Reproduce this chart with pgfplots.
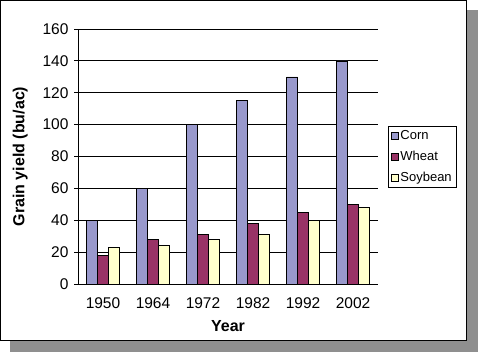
\documentclass[border=0pt]{standalone}
\usepackage{pgfplots}
\pgfplotsset{compat=1.18}
\usepackage{fontspec}
\setmainfont{Liberation Sans}
\definecolor{corn}{HTML}{9999CC}
\definecolor{wheat}{HTML}{993366}
\definecolor{soy}{HTML}{FFFFCC}
\definecolor{shadow}{HTML}{8F8F8F}
\begin{document}
\begin{tikzpicture}[x=1pt,y=1pt]
\fill[shadow] (10,0) rectangle (478,342);
\fill[white] (0,11) rectangle (467,352);
\draw[black,line width=1.2pt] (0.6,11.6) rectangle (466.4,351.4);
\begin{axis}[
  at={(78pt,68pt)}, anchor=south west,
  scale only axis, width=300pt, height=255pt,
  xmin=-0.5, xmax=5.5, ymin=0, ymax=160,
  ybar=0pt, bar width=11pt,
  axis x line*=bottom, axis y line*=left,
  axis line style={line width=0.9pt, -},
  xtick={0,1,2,3,4,5},
  xticklabels={1950,1964,1972,1982,1992,2002},
  x tick style={draw=none},
  extra x ticks={-0.5,0.5,1.5,2.5,3.5,4.5,5.5},
  extra x tick labels={},
  extra x tick style={grid=none, tick style={draw=black, line width=0.9pt}, major tick length=4pt, tick align=outside},
  ytick={0,20,...,160},
  ymajorgrids, grid style={black, line width=0.9pt},
  y tick style={black, line width=0.9pt},
  major tick length=4pt, tick align=outside,
  tick label style={font=\fontsize{15.5}{18}\selectfont},
  /pgf/number format/assume math mode=true,
  yticklabel style={xshift=-2pt},
  xticklabel style={yshift=-6pt},
  xlabel={Year}, ylabel={Grain yield (bu/ac)},
  label style={font=\bfseries\fontsize{16}{19}\selectfont},
  xlabel style={yshift=3pt},
  ylabel style={yshift=8pt},
  legend style={at={(1.0333,0.6196)}, anchor=north west, draw=black, line width=0.8pt,
    font=\fontsize{13}{15}\selectfont, inner sep=2.5pt, row sep=6pt,
    legend cell align=left},
  legend image code/.code={\draw[#1,draw=black,line width=0.5pt] (0pt,-3.5pt) rectangle (7pt,3.5pt);},
]
\addplot[fill=corn, draw=black, line width=0.6pt] coordinates {(0,40) (1,60) (2,100) (3,115) (4,130) (5,140)};
\addplot[fill=wheat, draw=black, line width=0.6pt] coordinates {(0,18) (1,28) (2,31) (3,38) (4,45) (5,50)};
\addplot[fill=soy, draw=black, line width=0.6pt] coordinates {(0,23) (1,24) (2,28) (3,31) (4,40) (5,48)};
\legend{Corn,Wheat,Soybean}
\end{axis}
\useasboundingbox (0,0) rectangle (478,352);
\end{tikzpicture}
\end{document}
